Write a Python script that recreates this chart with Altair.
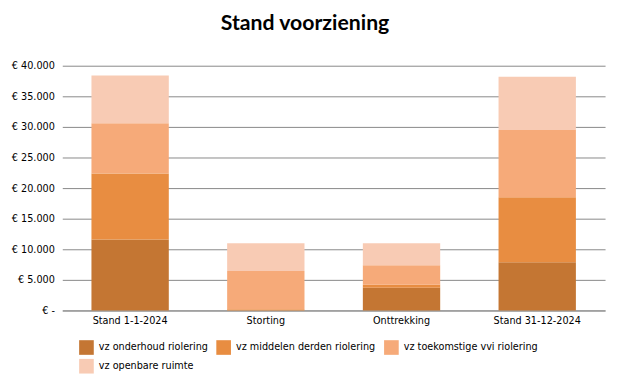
import altair as alt
import pandas as pd

categories = ["Stand 1-1-2024", "Storting", "Onttrekking", "Stand 31-12-2024"]
series = ["vz onderhoud riolering", "vz middelen derden riolering",
          "vz toekomstige vvi riolering", "vz openbare ruimte"]
onderhoud = [11600, 0, 3700, 7900]
derden = [10800, 200, 500, 10600]
vvi = [8200, 6250, 3200, 11000]
openbare = [7800, 4550, 3600, 8700]
colors = ["#C47633", "#E88D41", "#F6AA79", "#F8CBB4"]

rows = []
for si, (name, vals) in enumerate(zip(series, [onderhoud, derden, vvi, openbare])):
    for c, v in zip(categories, vals):
        rows.append({"cat": c, "serie": name, "value": v, "order": si})
df = pd.DataFrame(rows)

font = "DejaVu Sans"
fs = 9.8

chart = alt.Chart(df).mark_bar().encode(
    x=alt.X("cat:N", sort=categories, title=None,
            scale=alt.Scale(paddingInner=0.43, paddingOuter=0.215),
            axis=alt.Axis(labelAngle=0, ticks=False, domainColor="#888888",
                          labelFont=font, labelFontSize=fs, labelColor="#000000",
                          labelPadding=5)),
    y=alt.Y("value:Q", stack="zero", title=None,
            scale=alt.Scale(domain=[0, 40000]),
            axis=alt.Axis(values=list(range(0, 40001, 5000)), ticks=False, domain=False,
                          gridColor="#888888", gridWidth=1,
                          labelFont=font, labelFontSize=fs, labelColor="#000000",
                          labelPadding=8,
                          labelExpr="datum.value == 0 ? '€ -' : '€ ' + replace(format(datum.value, ',.0f'), ',', '.')")),
    color=alt.Color("serie:N", sort=series,
                    scale=alt.Scale(domain=series, range=colors),
                    legend=alt.Legend(title=None, orient="none", legendX=17, legendY=278,
                                      columns=3, direction="horizontal",
                                      symbolType="square", symbolSize=220,
                                      symbolStrokeWidth=0, symbolOpacity=1,
                                      labelFont=font, labelFontSize=fs, labelColor="#000000",
                                      columnPadding=8, rowPadding=4, labelOffset=5,
                                      gridAlign="each")),
    order=alt.Order("order:Q", sort="ascending"),
).properties(
    width=550, height=248,
    autosize=alt.AutoSizeParams(type="none"),
    padding={"left": 55, "top": 56, "right": 5, "bottom": 70},
    title=alt.Title("Stand voorziening", font="Lato", fontSize=21.5, fontWeight="bold",
                    color="#000000", anchor="middle", dx=-29, offset=27),
).configure_view(stroke=None)

chart.save("out.html", embed_options={"renderer": "svg", "actions": False})
